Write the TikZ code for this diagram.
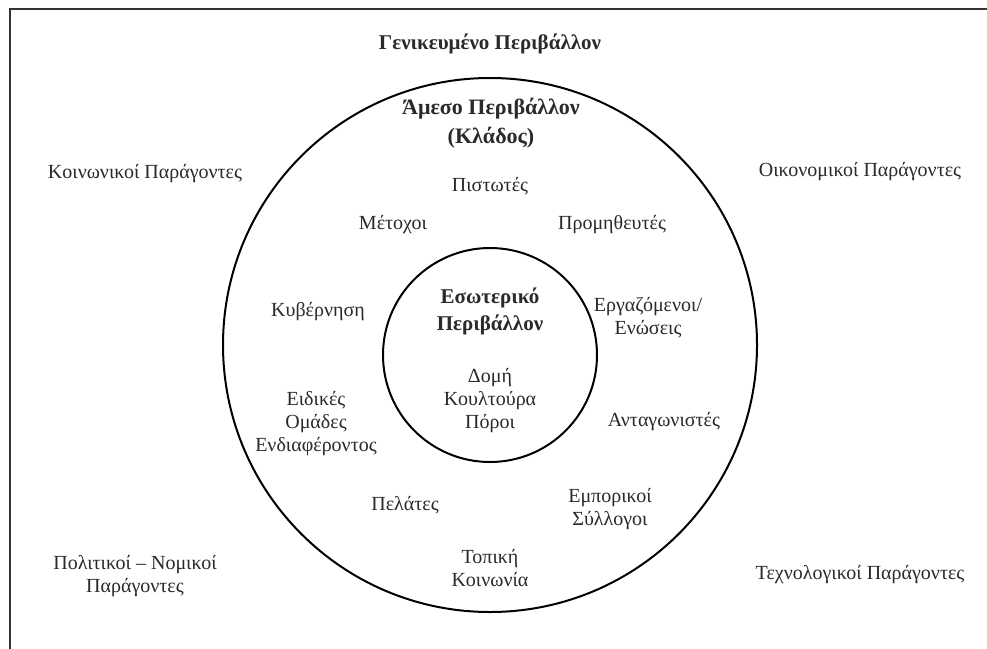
\documentclass[tikz,border=0pt]{standalone}
\usepackage{fontspec}
\setmainfont{Liberation Serif}
\definecolor{txt}{HTML}{2A2A2A}
\begin{document}
\begin{tikzpicture}[x=1pt,y=-1pt,
  lbl/.style={font=\fontsize{20}{23}\selectfont, text=txt, align=center, inner sep=0pt},
  blbl/.style={lbl, font=\fontsize{21}{27}\selectfont\bfseries},
  ring/.style={draw=black, line width=2pt}]
\useasboundingbox (0,0) rectangle (987,648);
\clip (0,0) rectangle (987,648);
\fill[white] (0,0) rectangle (987,648);
\draw[line width=2pt, draw=black!80] (10,9) rectangle (1010,700);
\draw[ring] (490,345) circle[radius=267];
\draw[ring] (490,355) circle[radius=107];
\node[blbl] (gen) at (490,44) {Γενικευμένο Περιβάλλον};
\node[blbl, font=\fontsize{22}{29}\selectfont\bfseries] (ames) at (491,123) {Άμεσο Περιβάλλον\\(Κλάδος)};
\node[lbl] (koin) at (145,174) {Κοινωνικοί Παράγοντες};
\node[lbl] (oik) at (860,172) {Οικονομικοί Παράγοντες};
\node[lbl] (pist) at (490,186) {Πιστωτές};
\node[lbl] (met) at (393,225) {Μέτοχοι};
\node[lbl] (prom) at (612,225) {Προμηθευτές};
\node[blbl] (eso) at (490,311) {Εσωτερικό\\Περιβάλλον};
\node[lbl] (kyv) at (318,312) {Κυβέρνηση};
\node[lbl] (erg) at (648,318) {Εργαζόμενοι/\\Ενώσεις};
\node[lbl] (dom) at (490,401) {Δομή\\Κουλτούρα\\Πόροι};
\node[lbl] (eid) at (316,424) {Ειδικές\\Ομάδες\\Ενδιαφέροντος};
\node[lbl] (ant) at (664,422) {Ανταγωνιστές};
\node[lbl] (pel) at (405,505) {Πελάτες};
\node[lbl] (emp) at (610,509) {Εμπορικοί\\Σύλλογοι};
\node[lbl] (top) at (490,568) {Τοπική\\Κοινωνία};
\node[lbl] (pol) at (135,576) {Πολιτικοί – Νομικοί\\Παράγοντες};
\node[lbl] (tex) at (860,575) {Τεχνολογικοί Παράγοντες};
\end{tikzpicture}
\end{document}
